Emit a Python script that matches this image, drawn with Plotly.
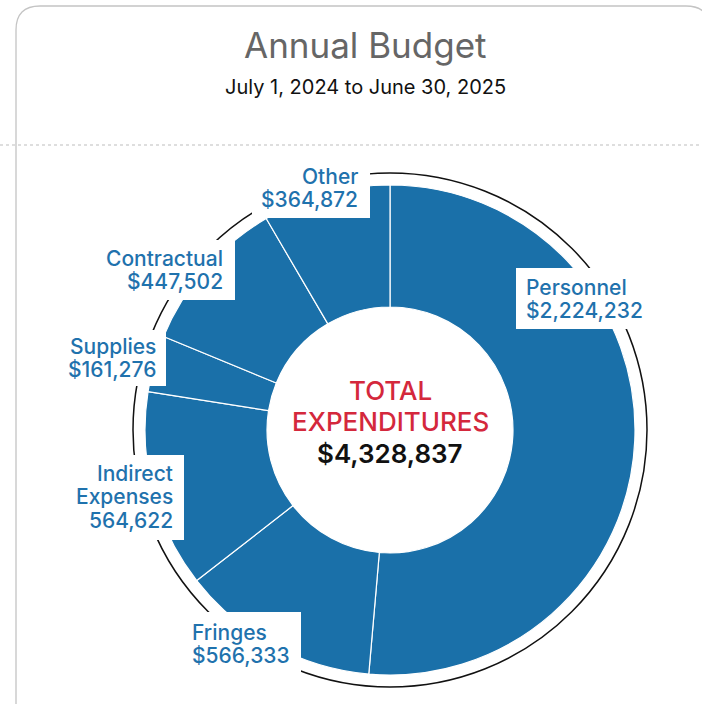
import plotly.graph_objects as go

W, H = 702, 704

categories = ["Personnel", "Fringes", "Indirect Expenses", "Supplies", "Contractual", "Other"]
values = [2224232, 566333, 564622, 161276, 447502, 364872]
label_lines = [
    ["Personnel", "$2,224,232"],
    ["Fringes", "$566,333"],
    ["Indirect", "Expenses", "564,622"],
    ["Supplies", "$161,276"],
    ["Contractual", "$447,502"],
    ["Other", "$364,872"],
]
total_title = ["TOTAL", "EXPENDITURES"]
total_text = "$4,328,837"
title_text = "Annual Budget"
subtitle_text = "July 1, 2024 to June 30, 2025"

BLUE = "#1a70a9"
TXT_BLUE = "#1f72ad"
RED = "#d4283c"
FONT = "Inter"


def px(x):
    return x / W


def py(y):
    return 1 - y / H


cx, cy, R = 390, 430, 245
ARC_R = 257

fig = go.Figure()
fig.add_trace(go.Pie(
    labels=categories,
    values=values,
    sort=False,
    direction="clockwise",
    rotation=0,
    hole=0.502,
    marker=dict(colors=[BLUE] * len(values), line=dict(color="white", width=1.2)),
    textinfo="none",
    hoverinfo="label+value",
    showlegend=False,
    domain=dict(x=[px(cx - R), px(cx + R)], y=[py(cy + R), py(cy - R)]),
))

shapes = []
# card
r = 24
x0, y0, x1, y1 = 16, 6, 710, 760
path = (f"M {px(x0)},{py(y1)} L {px(x0)},{py(y0 + r)} "
        f"Q {px(x0)},{py(y0)} {px(x0 + r)},{py(y0)} "
        f"L {px(x1 - r)},{py(y0)} Q {px(x1)},{py(y0)} {px(x1)},{py(y0 + r)} "
        f"L {px(x1)},{py(y1)}")
shapes.append(dict(type="path", xref="paper", yref="paper", path=path,
                   line=dict(color="#c4c4c4", width=1.3), layer="below"))
# dotted divider
shapes.append(dict(type="line", xref="paper", yref="paper",
                   x0=0, x1=1, y0=py(145), y1=py(145),
                   line=dict(color="#bdbdbd", width=1.2, dash="dot"), layer="below"))
# outer arc ring
shapes.append(dict(type="circle", xref="paper", yref="paper",
                   x0=px(cx - ARC_R), x1=px(cx + ARC_R), y0=py(cy + ARC_R), y1=py(cy - ARC_R),
                   line=dict(color="#111111", width=1.5), layer="below"))

# label boxes (pixel layout): box x0, y0, x1, y1, text x, first line y, anchor
label_layout = [
    (516, 268, 650, 329, 524, 287, "left"),
    (182, 612, 301, 672, 190, 632, "left"),
    (70, 455, 184, 540, 175, 473, "right"),
    (58, 330, 166, 386, 158, 346, "right"),
    (100, 240, 235, 300, 225, 258, "right"),
    (252, 158, 370, 218, 360, 176, "right"),
]
LINE_H = 23.5
annotations = []
for lines, (bx0, by0, bx1, by1, tx, ty, anc) in zip(label_lines, label_layout):
    shapes.append(dict(type="rect", xref="paper", yref="paper",
                       x0=px(bx0), x1=px(bx1), y0=py(by1), y1=py(by0),
                       fillcolor="white", line=dict(width=0), layer="above"))
    for i, ln in enumerate(lines):
        annotations.append(dict(text=ln, x=px(tx), y=py(ty + i * LINE_H), xref="paper", yref="paper",
                                showarrow=False, xanchor=anc, yanchor="middle",
                                font=dict(family=FONT, size=21, color=TXT_BLUE, weight=500)))

annotations.append(dict(text=title_text, x=px(365), y=py(45), xref="paper", yref="paper",
                        showarrow=False, font=dict(family=FONT, size=35, color="#666666"),
                        xanchor="center", yanchor="middle"))
annotations.append(dict(text=subtitle_text, x=px(365), y=py(87), xref="paper", yref="paper",
                        showarrow=False, font=dict(family=FONT, size=20, color="#111111"),
                        xanchor="center", yanchor="middle"))

for i, t in enumerate(total_title):
    annotations.append(dict(text=t, x=px(cx), y=py(390 + i * 31), xref="paper", yref="paper",
                            showarrow=False, font=dict(family=FONT, size=26, color=RED, weight=500),
                            xanchor="center", yanchor="middle"))
annotations.append(dict(text=total_text, x=px(cx), y=py(453), xref="paper", yref="paper",
                        showarrow=False, font=dict(family=FONT, size=26, color="#111111", weight=600),
                        xanchor="center", yanchor="middle"))

fig.update_layout(
    width=W, height=H,
    margin=dict(l=0, r=0, t=0, b=0),
    paper_bgcolor="white", plot_bgcolor="white",
    shapes=shapes, annotations=annotations,
    showlegend=False,
)

fig.write_html("out.html", config={"displayModeBar": False},
               post_script="document.body.style.margin='0';document.body.style.overflow='hidden';")
